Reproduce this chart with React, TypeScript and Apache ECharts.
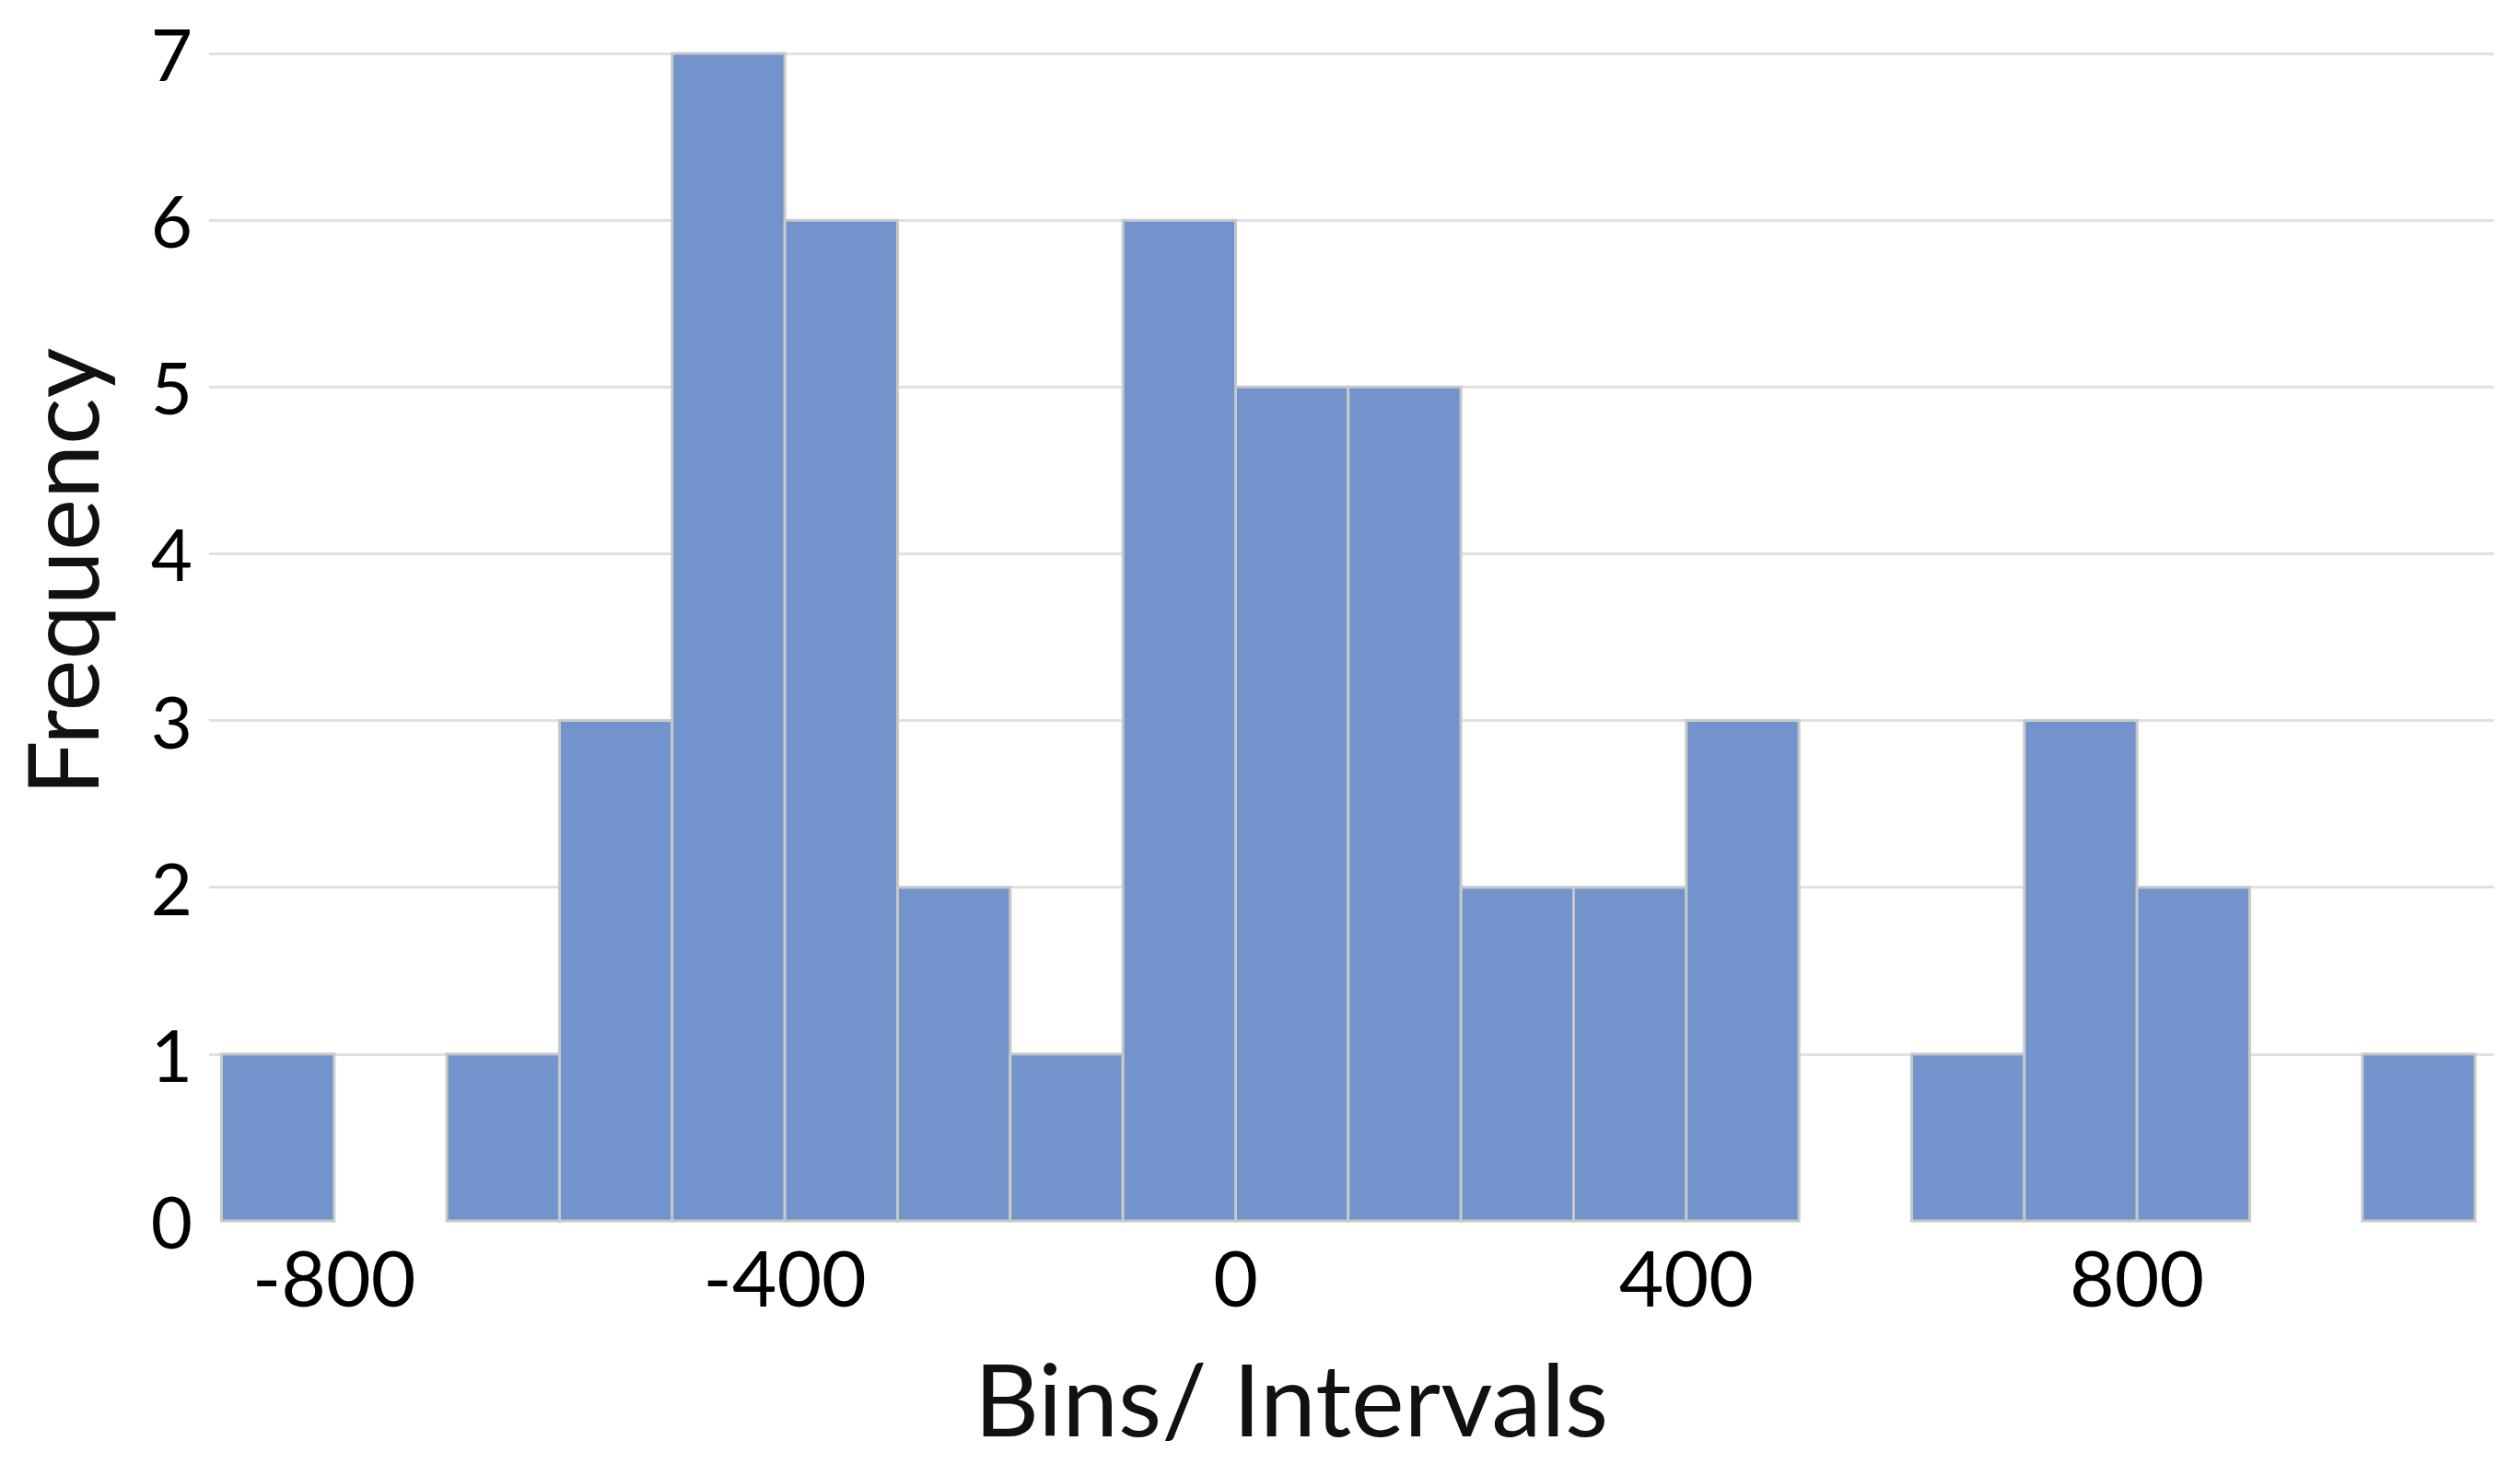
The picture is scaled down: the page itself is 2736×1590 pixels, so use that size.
import React, { useEffect, useRef } from "react";
import * as echarts from "echarts";

// Histogram bins (start of each 100-wide interval) and frequencies
const binStarts = [-900, -800, -700, -600, -500, -400, -300, -200, -100, 0, 100, 200, 300, 400, 500, 600, 700, 800, 900, 1000];
const binWidth = 100;
const counts = [1, 0, 1, 3, 7, 6, 2, 1, 6, 5, 5, 2, 2, 3, 0, 1, 3, 2, 0, 1];
const xTickLabels = [-800, -400, 0, 400, 800];
const yTicks = [0, 1, 2, 3, 4, 5, 6, 7];
const xTitle = "Bins/ Intervals";
const yTitle = "Frequency";

const FONT = "Lato";

export default function App() {
  const ref = useRef<HTMLDivElement>(null);
  useEffect(() => {
    document.body.style.margin = "0";
    const chart = echarts.init(ref.current!, null, { renderer: "svg" });
    const data = binStarts.map((s, i) => [s, s + binWidth, counts[i]]);
    const gridColors = yTicks.map((v) => (v === 0 ? "rgba(0,0,0,0)" : "#e0e0e0"));
    chart.setOption({
      animation: false,
      backgroundColor: "#ffffff",
      grid: { left: 227, right: 28, top: 58, bottom: 264, containLabel: false },
      xAxis: {
        type: "value",
        min: -911,
        max: 1117,
        axisLine: { show: false },
        axisTick: { show: false },
        splitLine: { show: false },
        axisLabel: {
          customValues: xTickLabels,
          fontFamily: FONT,
          fontSize: 84,
          color: "#000",
          margin: 18,
        },
      },
      yAxis: {
        type: "value",
        min: 0,
        max: 7,
        interval: 1,
        axisLine: { show: false },
        axisTick: { show: false },
        splitLine: { show: true, lineStyle: { color: gridColors, width: 3 } },
        axisLabel: {
          fontFamily: FONT,
          fontSize: 78,
          color: "#000",
          margin: 18,
        },
      },
      graphic: [
        {
          type: "text",
          x: 1402,
          y: 1517,
          style: {
            text: xTitle,
            fontFamily: FONT,
            fontSize: 109,
            fill: "#111",
            textAlign: "center",
            textVerticalAlign: "middle",
          },
        },
        {
          type: "text",
          x: 66,
          y: 621,
          rotation: Math.PI / 2,
          style: {
            text: yTitle,
            fontFamily: FONT,
            fontSize: 106,
            fill: "#111",
            textAlign: "center",
            textVerticalAlign: "middle",
          },
        },
      ],
      series: [
        {
          type: "custom",
          data,
          encode: { x: [0, 1], y: 2 },
          renderItem: (params: any, api: any) => {
            const s = api.value(0);
            const e = api.value(1);
            const c = api.value(2);
            if (!c) return null;
            const p0 = api.coord([s, c]);
            const p1 = api.coord([e, 0]);
            return {
              type: "rect",
              shape: { x: p0[0], y: p0[1], width: p1[0] - p0[0], height: p1[1] - p0[1] },
              style: { fill: "#7293cb", stroke: "#c8c8c8", lineWidth: 3 },
            };
          },
        },
      ],
    });
    return () => chart.dispose();
  }, []);
  return <div ref={ref} style={{ width: 2736, height: 1590 }} />;
}
